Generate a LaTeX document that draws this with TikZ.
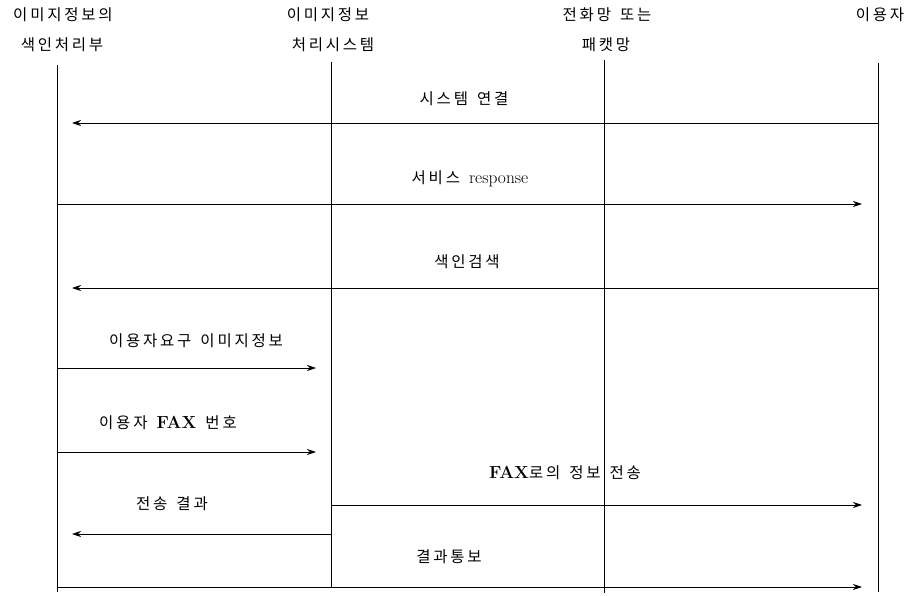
\documentclass[tikz,border=0pt]{standalone}
\usepackage{fontspec}
\usetikzlibrary{arrows.meta}
\newfontfamily\cjk[LetterSpace=18]{Noto Sans CJK KR}
\newfontfamily\latn{Latin Modern Roman}
\newcommand{\lat}[1]{{\latn\fontsize{17.5}{20}\selectfont #1}}
\newcommand{\gap}{\hspace{9pt}}
\begin{document}
\begin{tikzpicture}[x=1pt,y=-1pt,
  life/.style={line width=0.9pt},
  msg/.style={line width=0.9pt,-{Stealth[length=9pt,width=6pt]}},
  lbl/.style={font=\cjk\fontsize{15.5}{18}\selectfont,inner sep=0pt},
  hdr/.style={font=\cjk\fontsize{15.5}{18}\selectfont,inner sep=0pt}]
\useasboundingbox (0,0) rectangle (910,596);
% headers
\node[hdr] (h1a) at (63,15) {이미지정보의};
\node[hdr] (h1b) at (62,45) {색인처리부};
\node[hdr] (h2a) at (328,15) {이미지정보};
\node[hdr] (h2b) at (333,45) {처리시스템};
\node[hdr] (h3a) at (607,15) {전화망\gap 또는};
\node[hdr] (h3b) at (606,45) {패캣망};
\node[hdr] (h4a) at (880,15) {이용자};
% lifelines
\coordinate (l1t) at (57,65);  \coordinate (l1b) at (57,592);
\coordinate (l2t) at (331,62); \coordinate (l2b) at (331,587);
\coordinate (l3t) at (604,60); \coordinate (l3b) at (604,593);
\coordinate (l4t) at (878,63); \coordinate (l4b) at (878,592);
\draw[life] (l1t) -- (l1b);
\draw[life] (l2t) -- (l2b);
\draw[life] (l3t) -- (l3b);
\draw[life] (l4t) -- (l4b);
% messages
\coordinate (m1s) at (878,123); \coordinate (m1e) at (72,123);
\draw[msg] (m1s) -- (m1e);
\node[lbl] (t1) at (464,99) {시스템\gap 연결};

\coordinate (m2s) at (57,204); \coordinate (m2e) at (862,204);
\draw[msg] (m2s) -- (m2e);
\node[lbl] (t2) at (470,179) {서비스\gap\lat{response}};

\coordinate (m3s) at (878,288); \coordinate (m3e) at (72,288);
\draw[msg] (m3s) -- (m3e);
\node[lbl] (t3) at (467,262) {색인검색};

\coordinate (m4s) at (57,368); \coordinate (m4e) at (316,368);
\draw[msg] (m4s) -- (m4e);
\node[lbl] (t4) at (196,341) {이용자요구\gap 이미지정보};

\coordinate (m5s) at (57,452); \coordinate (m5e) at (316,452);
\draw[msg] (m5s) -- (m5e);
\node[lbl] (t5) at (168,423) {이용자\gap\lat{\bfseries FAX}\gap 번호};

\coordinate (m6s) at (331,505); \coordinate (m6e) at (862,505);
\draw[msg] (m6s) -- (m6e);
\node[lbl] (t6) at (565,473) {\lat{\bfseries FAX}로의\gap 정보\gap 전송};

\coordinate (m7s) at (331,534); \coordinate (m7e) at (72,534);
\draw[msg] (m7s) -- (m7e);
\node[lbl] (t7) at (172,504) {전송\gap 결과};

\coordinate (m8s) at (57,587); \coordinate (m8e) at (862,587);
\draw[msg] (m8s) -- (m8e);
\node[lbl] (t8) at (449,557) {결과통보};
\end{tikzpicture}
\end{document}
